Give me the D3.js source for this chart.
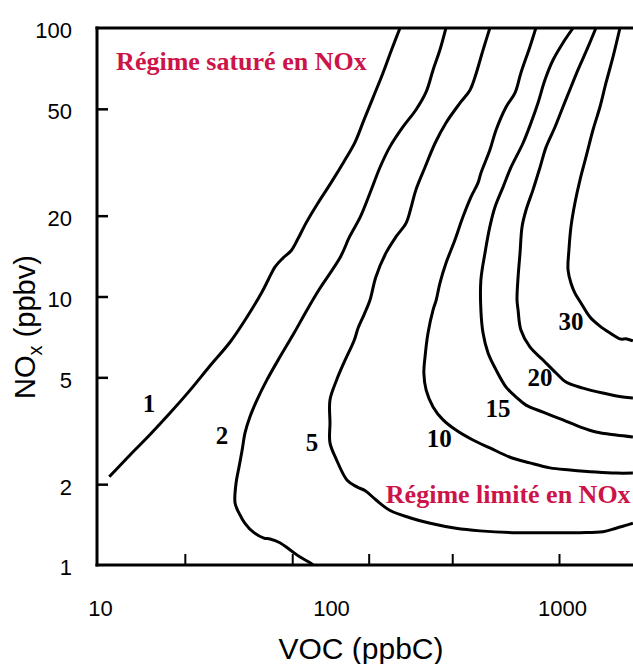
<!DOCTYPE html>
<html><head><meta charset="utf-8">
<script src="https://cdn.jsdelivr.net/npm/d3@7"></script>
<style>body{margin:0;background:#fff}</style>
</head><body><svg id="c" width="633" height="664"></svg>
<script>
// ---- data (VOC ppbC, NOx ppbv) ----
const xTickMarks = [24, 70, 150, 345, 1000];
const xTickLabels = [10, 100, 1000];
const yTickMarks = [2, 5, 10, 20, 50];
const yTickLabels = [1, 2, 5, 10, 20, 50, 100];

const contour1 = [[11.3,2.13],[13.9,2.57],[16.9,3.05],[20.7,3.68],[25.3,4.48],[30.8,5.51],[37.7,6.77],[44.6,8.39],[51.8,10.4],[55.0,11.5],[59.0,12.9],[63.8,13.9],[69.2,14.8],[74.1,16.4],[80.4,18.8],[90.5,22.3],[103,26.5],[117,31.7],[131,37.6],[143,45.4],[157,55.3],[173,68.0],[189,83.5],[205,100]];
const contour2 = [[86.1,1.0],[83.6,1.02],[75.7,1.07],[68.4,1.14],[61.9,1.21],[56.1,1.25],[52.8,1.26],[47.8,1.32],[43.7,1.43],[41.2,1.56],[39.6,1.70],[40.0,2.02],[41.2,2.32],[42.5,2.68],[43.7,3.10],[45.9,3.56],[49.3,4.12],[54.4,4.89],[61.9,5.95],[71.3,7.31],[81.1,8.91],[91.4,10.6],[113,14.0],[124,16.7],[138,19.8],[152,24.3],[168,30.3],[185,36.0],[211,42.8],[240,49.5],[266,57.8],[285,69.8],[305,82.8],[324,100]];
const contour5 = [[502,100],[469,82.8],[433,65.7],[412,58.8],[373,52.6],[324,44.3],[291,37.3],[263,30.3],[240,24.9],[229,21.5],[218,18.8],[197,16.7],[178,14.5],[161,11.8],[152,9.70],[143,8.53],[135,7.63],[130,6.89],[117,5.65],[109,4.89],[102,4.12],[102,3.38],[102,2.85],[109,2.46],[121,2.07],[134,1.95],[145,1.89],[161,1.75],[185,1.60],[226,1.50],[277,1.43],[358,1.37],[455,1.34],[632,1.32],[879,1.32],[1233,1.32],[1549,1.33],[1766,1.37],[2089,1.43]];
const contour10 = [[794,100],[748,85.0],[684,68.0],[645,57.3],[590,50.8],[534,41.7],[502,35.1],[459,28.8],[446,26.5],[416,23.5],[384,19.8],[354,16.2],[324,13.3],[305,11.2],[294,9.70],[285,8.91],[271,7.31],[263,5.95],[260,5.19],[266,4.48],[285,3.88],[315,3.47],[358,3.18],[424,2.92],[502,2.73],[614,2.52],[748,2.40],[914,2.30],[1117,2.26],[1445,2.22],[1766,2.20],[2089,2.20]];
const contour15 = [[1151,100],[1040,88.0],[942,76.0],[869,64.0],[811,52.6],[756,44.3],[699,37.3],[620,30.3],[573,25.6],[528,21.5],[502,18.2],[478,14.5],[459,11.5],[459,8.91],[469,7.31],[493,6.16],[534,5.33],[590,4.60],[652,4.22],[720,3.94],[853,3.71],[1040,3.47],[1233,3.27],[1445,3.13],[1766,3.05],[2089,3.00]];
const contour20 = [[1445,100],[1336,85.0],[1208,69.8],[1127,60.3],[1040,50.8],[961,42.8],[879,36.0],[828,30.3],[771,24.9],[720,21.0],[692,18.2],[678,14.5],[665,11.8],[658,9.70],[665,8.91],[684,7.50],[748,6.49],[853,5.80],[971,5.19],[1072,4.80],[1270,4.56],[1549,4.37],[1892,4.22],[2089,4.19]];
const contour30 = [[1836,100],[1713,78.0],[1597,62.4],[1504,50.8],[1403,41.7],[1309,33.1],[1233,27.2],[1172,22.3],[1127,18.2],[1104,14.9],[1094,12.6],[1127,11.2],[1172,10.3],[1245,9.46],[1361,8.39],[1504,7.76],[1663,7.31],[1836,6.95],[1968,6.95],[2089,6.83]];

const contourLevels = ["1", "2", "5", "10", "15", "20", "30"];
const contourLabelAt = [[16.8,4.01],[34.8,3.05],[85.3,2.87],[303,2.97],[545,3.84],[828,5.01],[1127,8.10]];
const regionTexts = ["Régime saturé en NOx", "Régime limité en NOx"];
const regionAt = [[12.1,69.8],[178,1.70]];

// ---- layout ----
const W = 633, H = 664, L = 97, T = 28, B = 565;
const svg = d3.select("#c");
const x = d3.scaleLog().domain([10, 1000]).range([97, 559]);
const y = d3.scaleLog().domain([1, 100]).range([B, T]);
const sans = "'Liberation Sans', Arial, sans-serif";
const serif = "'Liberation Serif', 'Times New Roman', serif";

svg.append("defs").append("clipPath").attr("id","plot")
  .append("rect").attr("x", L).attr("y", T).attr("width", W - L).attr("height", B - T);

// ticks
const gxt = svg.append("g").attr("transform", `translate(0,${B})`)
  .call(d3.axisBottom(x).tickValues(xTickMarks).tickSize(-11).tickFormat(""));
gxt.select(".domain").remove();
gxt.selectAll("line").attr("stroke", "#000").attr("stroke-width", 2);

const gxl = svg.append("g").attr("transform", `translate(0,${B})`)
  .call(d3.axisBottom(x).tickValues(xTickLabels).tickSize(0).tickPadding(35).tickFormat(d3.format("d")));
gxl.select(".domain").remove();
gxl.selectAll("text").attr("font-family", sans).attr("font-size", 22).attr("fill", "#000").attr("dx", 3);

const gyt = svg.append("g").attr("transform", `translate(${L},0)`)
  .call(d3.axisLeft(y).tickValues(yTickMarks).tickSize(-11).tickFormat(""));
gyt.select(".domain").remove();
gyt.selectAll("line").attr("stroke", "#000").attr("stroke-width", 2.5);

const gyl = svg.append("g").attr("transform", `translate(${L},0)`)
  .call(d3.axisLeft(y).tickValues(yTickLabels).tickSize(0).tickPadding(25).tickFormat(d3.format("d")));
gyl.select(".domain").remove();
gyl.selectAll("text").attr("font-family", sans).attr("font-size", 22).attr("fill", "#000").attr("dy", "0.45em");

// frame
const frame = svg.append("g").attr("stroke", "#000").attr("stroke-width", 3).attr("stroke-linecap", "square");
frame.append("line").attr("x1", L).attr("x2", L).attr("y1", T).attr("y2", B);
frame.append("line").attr("x1", L).attr("x2", W).attr("y1", T).attr("y2", T);
frame.append("line").attr("x1", L).attr("x2", W).attr("y1", B).attr("y2", B);

// contours
const line = d3.line().x(d => x(d[0])).y(d => y(d[1])).curve(d3.curveCatmullRom.alpha(0.5));
const contours = [contour1, contour2, contour5, contour10, contour15, contour20, contour30];
svg.append("g").attr("clip-path", "url(#plot)")
  .selectAll("path").data(contours).join("path")
  .attr("d", line).attr("fill", "none").attr("stroke", "#000")
  .attr("stroke-width", 3).attr("stroke-linejoin", "round").attr("stroke-linecap", "butt");

svg.append("g").selectAll("text").data(contourLevels).join("text")
  .attr("x", (d, i) => x(contourLabelAt[i][0]))
  .attr("y", (d, i) => y(contourLabelAt[i][1]))
  .attr("dy", "0.35em").attr("text-anchor", "middle")
  .attr("font-family", serif).attr("font-weight", "bold").attr("font-size", 25)
  .attr("fill", "#000").text(d => d);

svg.append("g").selectAll("text").data(regionTexts).join("text")
  .attr("x", (d, i) => x(regionAt[i][0]))
  .attr("y", (d, i) => y(regionAt[i][1]))
  .attr("font-family", serif).attr("font-weight", "bold").attr("font-size", 26)
  .attr("fill", "#cc1449").text(d => d);

// axis titles
svg.append("text").attr("x", 361).attr("y", 659).attr("text-anchor", "middle")
  .attr("font-family", sans).attr("font-size", 30).attr("fill", "#000").text("VOC (ppbC)");

const yt = svg.append("text").attr("transform", "translate(35,327) rotate(-90)")
  .attr("text-anchor", "middle").attr("font-family", sans).attr("font-size", 29).attr("fill", "#000");
yt.append("tspan").text("NO");
yt.append("tspan").attr("font-size", 20).attr("dy", 7).text("x");
yt.append("tspan").attr("dy", -7).text(" (ppbv)");
</script>
</body></html>
